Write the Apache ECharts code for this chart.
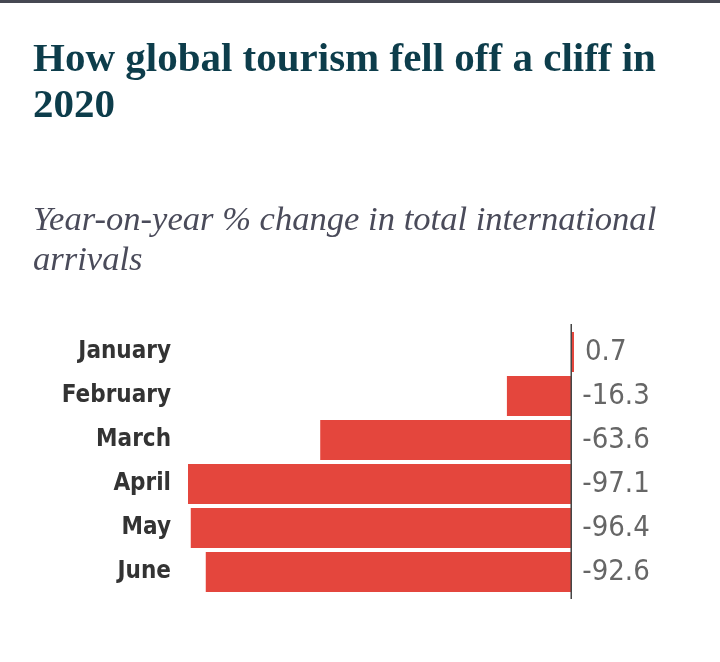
<!DOCTYPE html>
<html>
<head>
<meta charset="utf-8">
<script src="https://cdn.jsdelivr.net/npm/echarts@6/dist/echarts.min.js"></script>
<style>
html,body{margin:0;padding:0;background:#fff;}
#top{position:absolute;left:0;top:0;width:720px;height:3px;background:#464852;z-index:5;}
#chart{width:720px;height:662px;}
</style>
</head>
<body>
<div id="top"></div>
<div id="chart"></div>
<script>
const titleText = 'How global tourism fell off a cliff in\n2020';
const subtitleText = 'Year-on-year % change in total international\narrivals';
const categories = ['January', 'February', 'March', 'April', 'May', 'June'];
const values = [0.7, -16.3, -63.6, -97.1, -96.4, -92.6];

const labelAnchor = values.map(v => Math.max(v, 0));

const chart = echarts.init(document.getElementById('chart'), null, {renderer: 'canvas'});
const option = {
  animation: false,
  backgroundColor: '#ffffff',
  title: [
    {
      text: titleText,
      left: 33, top: 37, padding: 0,
      textStyle: {fontFamily: 'Liberation Serif', fontWeight: 'bold', fontSize: 41, color: '#0d3d4b', lineHeight: 46}
    },
    {
      text: subtitleText,
      left: 33, top: 201, padding: 0,
      textStyle: {fontFamily: 'Liberation Serif', fontStyle: 'italic', fontWeight: 'normal', fontSize: 34.6, color: '#4a4b5a', lineHeight: 40}
    }
  ],
  grid: {left: 188, right: 146, top: 330, height: 264, containLabel: false},
  xAxis: {
    type: 'value', min: -97.1, max: 0.7,
    show: false
  },
  yAxis: {
    type: 'category', data: categories, inverse: true,
    axisLine: {show: false}, axisTick: {show: false}, splitLine: {show: false},
    axisLabel: {
      margin: 17, fontFamily: 'DejaVu Sans Condensed', fontWeight: 'bold', fontSize: 24, color: '#333333'
    }
  },
  series: [
    {
      type: 'bar', data: values, barWidth: 40,
      itemStyle: {color: '#e4463d'},
      silent: true
    },
    {
      type: 'bar', data: labelAnchor, barWidth: 40, barGap: '-100%',
      itemStyle: {color: 'rgba(0,0,0,0)'},
      silent: true,
      label: {
        show: true, position: 'right', distance: 11,
        fontFamily: 'DejaVu Sans Condensed', fontSize: 29, color: '#666666',
        formatter: p => String(values[p.dataIndex])
      }
    }
  ]
};
chart.setOption(option);
const x0 = chart.convertToPixel({xAxisIndex: 0}, 0);
chart.setOption({
  graphic: [{
    type: 'line',
    shape: {x1: x0, y1: 324, x2: x0, y2: 599},
    style: {stroke: '#444444', lineWidth: 1.5},
    z: 10
  }]
});
</script>
</body>
</html>
